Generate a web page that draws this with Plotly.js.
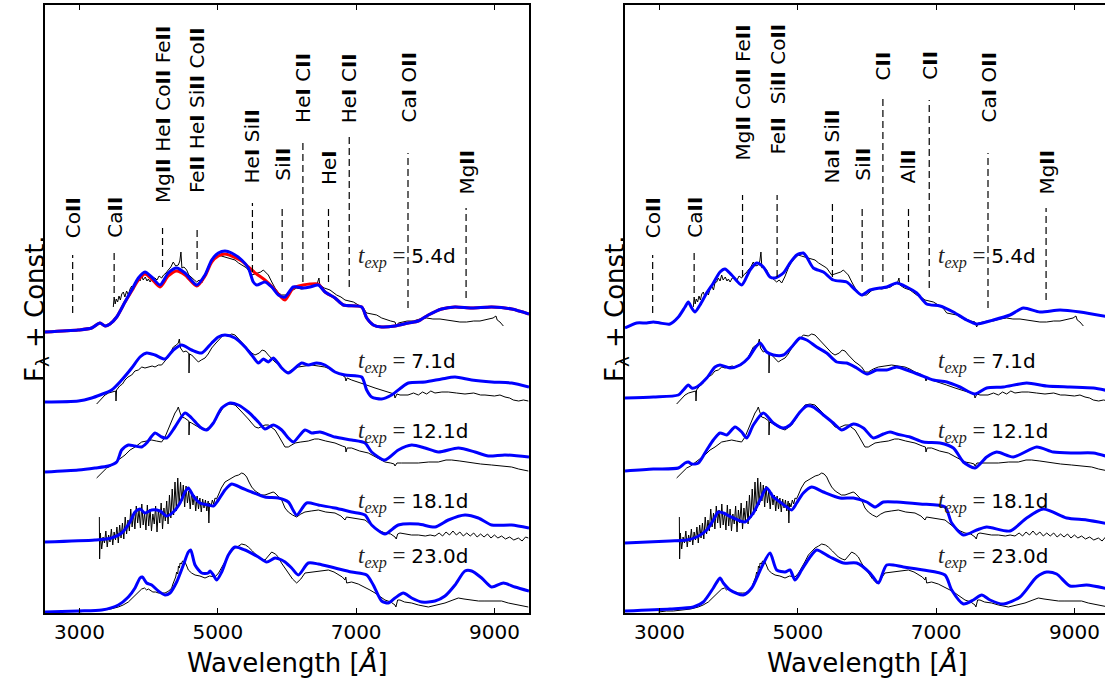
<!DOCTYPE html>
<html><head><meta charset="utf-8">
<script src="https://cdn.plot.ly/plotly-3.0.1.min.js"></script>
<style>html,body{margin:0;padding:0;overflow:hidden;background:#fff}#chart{width:1110px;height:678px}</style>
</head><body><div id="chart"></div>
<script>
// ---------------- DATA ----------------
const epochs = ['5.4d', '7.1d', '12.1d', '18.1d', '23.0d'];

// observed spectra (black) — same in both panels
const wlObs54 = [3488,3500,3515,3530,3550,3570,3590,3610,3633,3655,3680,3706,3730,3754,3780,3800,3825,3850,3875,3898,3920,3950,3975,3995,4020,4050,4091,4120,4150,4187,4215,4250,4283,4320,4355,4390,4428,4450,4466,4480,4510,4549,4580,4620,4660,4694,4730,4766,4810,4862,4900,4935,4970,5007,5050,5103,5175,5248,5300,5345,5417,5489,5540,5586,5620,5658,5730,5780,5827,5880,5923,5995,6060,6140,6210,6284,6340,6380,6440,6462,6475,6540,6622,6718,6780,6839,6900,6960,7032,7100,7153,7220,7297,7370,7441,7500,7562,7586,7610,7658,7740,7827,7920,8020,8110,8213,8310,8406,8500,8598,8700,8791,8870,8936,8980,9022,9040,9080,9110,9129];
const flObs54 = [306,316,309,314,311,317,313,319,321,316,322,318,324,327,323,330,331,335,332,338,333,336,332,334,331,335,335,333,337,335,338,340,343,346,351,347,348,352,361,345,346,343,338,335,333,331,333,330,336,345,350,353,356,358,357,356,355,353,350,348,345,338,339,340,341,343,338,331,325,320,318,318,322,325,324,325,326,328,330,335,328,325,323,318,316,313,312,311,308,305,300,299,298,295,293,292,291,286,290,291,292,292,294,295,294,294,293,292,291,291,292,292,293,294,295,297,293,291,289,287];

const wlObs71 = [3247,3300,3368,3420,3464,3500,3522,3527,3535,3580,3620,3657,3700,3754,3800,3850,3900,3946,4000,4050,4091,4140,4187,4230,4284,4320,4356,4400,4428,4443,4460,4500,4540,4575,4580,4583,4590,4621,4670,4718,4760,4814,4860,4911,4960,5007,5079,5150,5200,5248,5300,5345,5400,5441,5490,5537,5600,5640,5682,5730,5780,5827,5870,5923,5971,6019,6090,6164,6260,6356,6450,6549,6620,6694,6770,6839,6853,6870,6935,7032,7150,7273,7400,7514,7550,7562,7590,7634,7750,7830,7900,7960,8020,8080,8140,8240,8333,8450,8574,8700,8800,8863,9000,9080,9153,9220,9273,9350,9420,9490];
const flObs71 = [209,213,218,220,221,222,222,212,223,227,229,233,236,238,242,243,246,245,246,247,246,248,248,252,256,261,266,268,270,274,265,261,262,260,260,240,259,258,254,251,253,255,259,265,269,273,278,277,279,278,274,271,266,263,260,258,260,263,262,258,254,251,249,246,241,241,244,246,247,248,247,246,244,241,239,236,232,235,233,231,228,225,222,220,219,215,219,218,218,220,218,221,219,222,220,221,221,220,219,220,218,218,217,218,216,215,213,212,213,212];

const wlObs121 = [3247,3300,3392,3450,3512,3580,3657,3730,3802,3850,3898,3970,4043,4110,4187,4236,4290,4332,4380,4410,4428,4450,4477,4520,4573,4580,4583,4590,4620,4670,4740,4814,4860,4911,4960,5007,5060,5103,5176,5248,5320,5393,5441,5489,5540,5586,5640,5682,5730,5780,5827,5880,5923,5971,6019,6070,6116,6200,6308,6400,6453,6560,6694,6800,6845,6853,6870,6935,7050,7176,7300,7417,7500,7550,7562,7590,7658,7780,7900,8050,8189,8300,8382,8500,8600,8671,8800,8960,9100,9249,9350,9420,9490];
const flObs121 = [135,139,145,147,150,154,158,163,166,169,171,172,173,172,171,176,185,193,200,203,206,201,196,195,192,192,178,191,190,188,185,183,185,188,193,198,203,208,209,208,203,198,194,190,186,185,187,188,188,185,183,177,171,166,166,168,170,171,172,174,174,172,170,167,166,161,165,165,162,160,155,151,150,149,147,150,150,150,150,151,151,153,153,152,151,150,149,148,147,146,144,143,142];

const wlObs181 = [3286,3290,
  3300,3320,3340,3360,3380,3400,3420,3440,3460,3480,
  3500,3520,3540,3560,3580,3600,3620,3640,3660,3680,
  3700,3720,3740,3760,3780,3800,3820,3840,3860,3880,
  3900,3920,3940,3960,3980,4000,4020,4040,4060,4080,
  4100,4120,4140,4160,4180,4200,4220,4240,4260,4280,
  4300,4320,4340,4360,4380,4400,4420,4440,4460,4480,
  4500,4520,4540,4560,4580,4600,4620,4640,4660,4680,
  4700,4720,4740,4760,4780,4800,4820,4840,4860,4870,4880,
  4900,4920,4940,4960,4980,5007,
  5050,5103,5150,5200,5250,5300,5345,5380,5417,5450,5489,5540,5586,5630,5682,5750,5800,5827,5880,5923,5971,6019,6080,6140,6200,6260,6350,6453,6560,6694,6780,6839,6860,6935,7030,7128,7200,7273,7350,7417,7500,7562,7580,7600,7634,7700,7800,7900,8000,8070,8140,8200,8250,8300,8350,8400,8450,8500,8550,8600,8650,8700,8750,8800,8850,8900,8950,9000,9050,9104,9160,9220,9280,9346,9400,9450,9490];
const flObs181 = [96,54,
  80,64,76,70,82,66,78,71,84,68,
  81,73,86,70,88,75,90,74,96,79,
  93,82,104,86,100,84,107,90,103,85,
  109,88,100,83,108,87,104,82,99,89,
  107,81,103,90,110,84,105,92,112,89,
  118,95,124,98,131,102,135,108,131,112,
  128,106,127,110,122,104,121,108,118,102,
  117,104,115,101,114,105,113,102,112,90,110,
  106,113,109,115,114,118,
  125,131,133,135,137,138,140,139,136,131,126,122,120,118,118,120,121,120,116,113,105,101,98,96,99,101,102,103,101,100,97,93,96,95,94,93,89,85,82,80,79,76,74,79,80,79,78,78,77,78,77,80,77,81,78,82,78,81,77,80,77,80,76,79,76,79,75,78,75,77,74,76,73,75,72,76,75];

const wlObs230 = [2982,3100,3200,3368,3450,3561,3630,3705,3750,3802,3850,3898,3940,3970,3995,4030,4060,4100,4139,4200,4236,4290,4332,4350,4370,4390,4404,4420,4430,4445,4453,4470,4490,4525,4550,4573,4620,4670,4740,4814,4880,4959,5010,5055,5100,5152,5200,5248,5300,5345,5400,5441,5500,5586,5640,5682,5730,5779,5830,5875,5920,5971,6020,6080,6140,6200,6260,6350,6453,6598,6680,6742,6800,6839,6850,6863,6935,7030,7128,7200,7273,7350,7417,7500,7562,7575,7600,7634,7700,7803,7900,8044,8150,8285,8400,8478,8560,8671,8770,8863,8960,9104,9200,9346,9420,9490];
const flObs230 = [1,2,2,3,4,6,8,11,14,18,21,24,25,23,24,22,21,21,20,20,20,22,25,29,32,36,41,39,47,45,50,49,52,51,47,43,40,38,37,35,37,36,40,45,51,58,62,65,67,69,68,66,62,56,54,53,57,61,59,56,50,45,40,34,30,34,40,41,42,43,41,38,36,33,36,30,31,29,26,23,20,16,13,11,8,6,13,13,11,10,8,6,8,10,13,15,14,13,12,12,12,12,10,8,7,6];

// red model, left panel, 5.4d
const wlRed54 = [2500,2980,3175,3295,3370,3440,3537,3657,3754,3850,3946,4043,4163,4283,4404,4525,4694,4814,4911,5007,5103,5200,5345,5441,5560,5680,5800,5900,5971,6091,6236,6333,6453,6550,6694,6815,7080,7153,7248,7369,7562,7755,7900,8044,8237,8430,8671,8960,9250,9500];
const flRed54 = [281,283,285,290,287,289,296,311,322,333,339,334,326,337,342,338,327,337,351,357,359,357,352,346,339,333,325,317,313,325,328,329,329,321,315,308,306,295,288,286,287,290,292,298,304,306,305,306,304,299];

// blue models, left panel
const wlBlueL54 = [2500,2980,3175,3295,3370,3440,3537,3657,3754,3850,3946,4043,4163,4283,4404,4525,4694,4814,4911,5007,5103,5200,5345,5441,5513,5562,5682,5779,5875,5971,6091,6236,6333,6453,6550,6694,6815,7080,7153,7248,7369,7562,7755,7900,8044,8237,8430,8671,8960,9250,9500];
const flBlueL54 = [281,283,285,290,287,289,296,311,323,335,341,336,328,340,345,340,328,338,353,360,362,360,353,345,331,328,331,326,318,316,326,325,326,328,321,315,308,306,295,288,286,287,290,292,298,304,306,305,306,304,299];
const wlBlueL71 = [2500,2982,3175,3295,3464,3609,3754,3874,3970,4091,4236,4356,4477,4621,4766,4911,5007,5103,5248,5393,5489,5586,5658,5730,5802,5923,6019,6212,6308,6429,6549,6694,6839,7080,7152,7224,7369,7514,7755,7996,8237,8430,8671,8960,9249,9500];
const flBlueL71 = [211,212,215,218,223,233,245,256,260,258,254,263,268,263,260,270,276,278,275,266,258,250,254,251,255,245,240,250,248,250,248,241,238,236,223,216,214,218,230,231,234,236,233,231,230,226];
const wlBlueL121 = [2500,2982,3223,3416,3537,3609,3705,3802,3898,3970,4091,4187,4260,4380,4525,4621,4742,4838,4935,5055,5176,5296,5441,5586,5682,5802,5923,6019,6092,6260,6356,6477,6694,6935,7128,7224,7417,7610,7803,7996,8189,8478,8719,8912,9153,9500];
const flBlueL121 = [141,143,145,147,151,163,168,167,166,170,180,176,175,186,200,195,186,183,190,205,210,208,201,191,184,188,183,175,171,183,180,181,176,173,170,161,153,163,168,165,161,165,161,157,158,156];
const wlBlueL181 = [2500,3223,3464,3609,3729,3802,3874,3946,4043,4163,4260,4356,4453,4525,4573,4645,4742,4862,4935,5007,5103,5200,5345,5489,5682,5875,6019,6140,6284,6453,6694,6935,7128,7224,7417,7610,7900,8140,8333,8574,8767,8960,9249,9500];
const flBlueL181 = [71,73,75,80,91,101,104,100,103,102,97,101,110,121,125,117,110,108,107,113,123,129,125,121,116,115,111,98,110,108,105,101,98,88,79,88,89,86,93,98,95,88,88,85];
const wlBlueL230 = [2500,2982,3320,3561,3705,3802,3874,3908,3970,4043,4139,4236,4308,4404,4501,4573,4607,4670,4766,4862,4887,4935,4983,5055,5152,5248,5393,5586,5706,5827,5923,5971,6067,6164,6308,6453,6694,6935,7152,7248,7369,7465,7562,7682,7803,7948,8140,8285,8430,8574,8671,8815,8960,9129,9297,9500];
const flBlueL230 = [1,2,3,8,16,25,35,36,30,28,22,18,20,31,48,61,63,48,40,40,42,38,33,41,58,66,63,56,51,55,53,51,45,38,50,49,45,41,38,28,12,10,15,20,15,11,12,17,28,42,42,35,26,30,26,22];

// blue models, right panel
const wlBlueR54 = [2500,2669,2814,2910,3007,3151,3272,3368,3416,3465,3513,3585,3682,3778,3874,3946,4043,4188,4308,4405,4501,4597,4670,4790,4887,4983,5080,5128,5224,5369,5513,5706,5803,5923,6044,6188,6285,6430,6574,6719,6863,7056,7249,7442,7587,7827,8068,8261,8502,8792,9081,9500];
const flBlueR54 = [285,290,290,291,290,289,296,306,311,305,301,308,320,330,341,344,338,328,343,350,346,336,335,340,350,358,360,356,345,341,333,331,325,318,323,325,326,330,326,320,309,307,301,293,289,293,298,305,301,303,301,296];
const wlBlueR71 = [2500,2910,3272,3344,3416,3465,3537,3682,3802,3874,4019,4164,4284,4381,4453,4549,4646,4790,4911,5031,5128,5272,5417,5562,5706,5851,5996,6140,6285,6430,6574,6767,6960,7153,7345,7562,7731,7972,8309,8599,8936,9274,9500];
const flBlueR71 = [215,216,218,223,228,225,226,235,246,248,245,248,255,265,270,261,258,258,266,275,273,266,260,251,250,245,239,243,243,246,243,238,233,231,226,219,225,226,230,227,226,225,222];
const wlBlueR121 = [2500,2910,3272,3368,3416,3465,3561,3682,3778,3874,3971,4091,4188,4260,4356,4501,4646,4790,4887,5031,5128,5224,5369,5513,5634,5803,5947,6092,6236,6333,6430,6622,6815,7056,7249,7394,7562,7731,7876,8117,8454,8695,8985,9274,9500];
const flBlueR121 = [142,144,145,150,151,149,150,163,173,180,178,186,181,175,188,200,190,185,188,201,207,206,198,190,183,189,185,175,179,181,179,176,171,170,165,151,145,156,161,156,166,161,160,160,156];
const wlBlueR181 = [2500,3151,3392,3537,3682,3778,3850,3922,4067,4236,4356,4453,4549,4646,4742,4839,4911,4983,5080,5200,5369,5610,5803,5996,6116,6236,6430,6767,7128,7225,7394,7587,7731,8068,8309,8550,8888,9177,9500];
const flBlueR181 = [70,72,73,76,83,93,101,100,95,91,100,113,125,116,111,106,103,110,120,126,121,115,115,111,106,111,111,109,106,90,78,83,86,82,95,104,95,93,89];
const wlBlueR230 = [2500,3151,3489,3633,3778,3874,3922,4019,4212,4332,4477,4597,4694,4815,4887,4959,5055,5176,5272,5465,5658,5851,6044,6164,6285,6526,6815,7128,7225,7394,7538,7659,7779,7972,8213,8454,8599,8743,8936,9177,9500];
const flBlueR230 = [2,4,6,11,25,35,30,23,18,25,46,60,43,41,43,33,43,56,63,56,50,50,40,30,48,46,43,38,23,9,13,18,13,9,16,36,41,39,27,28,24];

// line identifications
const lineWl = [2900, 3500, 4200, 4700, 5500, 5930, 6230, 6600, 6900, 7750, 8590];
const lineLabelsL = ['Co<b>II</b>', 'Ca<b>II</b>', 'Mg<b>II</b> He<b>I</b> Co<b>II</b> Fe<b>II</b>', 'Fe<b>II</b> He<b>I</b> Si<b>II</b> Co<b>II</b>', 'He<b>I</b> Si<b>II</b>', 'Si<b>II</b>', 'He<b>I</b> C<b>II</b>', 'He<b>I</b>', 'He<b>I</b> C<b>II</b>', 'Ca<b>I</b> O<b>II</b>', 'Mg<b>II</b>'];
const lineLabelsR = ['Co<b>II</b>', 'Ca<b>II</b>', 'Mg<b>II</b> Co<b>II</b> Fe<b>II</b>', 'Fe<b>II</b>&nbsp; Si<b>II</b> Co<b>II</b>', 'Na<b>I</b> Si<b>II</b>', 'Si<b>II</b>', 'C<b>II</b>', 'Al<b>II</b>', 'C<b>II</b>', 'Ca<b>I</b> O<b>II</b>', 'Mg<b>II</b>'];

const xTickVals = [3000, 5000, 7000, 9000];
const xTickText = ['3000', '5000', '7000', '9000'];

// ---------------- LAYOUT CONSTANTS ----------------
const lineTopL = [358, 363, 385, 386, 410, 406, 471, 406, 476, 460, 405];
const lineBotL = [300, 320, 346, 343, 341, 331, 331, 331, 326, 305, 315];
const labelBaseL = [373, 373, 408, 418, 428, 430, 488, 426, 488, 488, 416];
const lineTopR = [358, 363, 418, 418, 410, 406, 516, 406, 513, 460, 405];
const lineBotR = [300, 320, 336, 336, 336, 331, 331, 331, 325, 305, 313];
const labelBaseR = [373, 373, 450, 456, 428, 430, 531, 428, 531, 488, 416];
const epochLabelY = [356, 251, 181, 111, 56];

const W = 1110, H = 678;
const obsWl = [wlObs54, wlObs71, wlObs121, wlObs181, wlObs230];
const obsFl = [flObs54, flObs71, flObs121, flObs181, flObs230];
const blueL = [[wlBlueL54, flBlueL54], [wlBlueL71, flBlueL71], [wlBlueL121, flBlueL121], [wlBlueL181, flBlueL181], [wlBlueL230, flBlueL230]];
const blueR = [[wlBlueR54, flBlueR54], [wlBlueR71, flBlueR71], [wlBlueR121, flBlueR121], [wlBlueR181, flBlueR181], [wlBlueR230, flBlueR230]];

const traces = [];
function panel(xa, ya, blues, withRed) {
  for (let i = 0; i < 5; i++) {
    traces.push({x: obsWl[i], y: obsFl[i], xaxis: xa, yaxis: ya, type: 'scatter', mode: 'lines',
      line: {color: '#000000', width: 1}, hoverinfo: 'skip', showlegend: false});
  }
  if (withRed) {
    traces.push({x: wlRed54, y: flRed54, xaxis: xa, yaxis: ya, type: 'scatter', mode: 'lines',
      line: {color: '#ff0000', width: 3, shape: 'spline', smoothing: 0.7}, hoverinfo: 'skip', showlegend: false});
  }
  for (let i = 0; i < 5; i++) {
    traces.push({x: blues[i][0], y: blues[i][1], xaxis: xa, yaxis: ya, type: 'scatter', mode: 'lines',
      line: {color: '#0000ff', width: 3, shape: 'spline', smoothing: 0.7}, hoverinfo: 'skip', showlegend: false});
  }
}
panel('x', 'y', blueL, true);
panel('x2', 'y2', blueR, false);

const shapes = [], annotations = [];
function ids(xr, yr, labels, tops, bots, bases) {
  for (let i = 0; i < lineWl.length; i++) {
    shapes.push({type: 'line', xref: xr, yref: yr, x0: lineWl[i], x1: lineWl[i], y0: bots[i], y1: tops[i],
      line: {color: '#000', width: 1.2, dash: '7px,4px'}});
    annotations.push({xref: xr, yref: yr, x: lineWl[i], y: bases[i], text: labels[i], textangle: -90,
      xanchor: 'center', yanchor: 'bottom', showarrow: false,
      font: {family: 'DejaVu Sans', size: 20, color: '#000'}});
  }
  for (let i = 0; i < 5; i++) {
    annotations.push({xref: xr, yref: yr, x: 7000, y: epochLabelY[i], xanchor: 'left', yanchor: 'middle', showarrow: false,
      text: '<span style="font-family:\'Liberation Serif\';font-size:23px;color:#222"><i>t</i><sub><i>exp</i></sub> = </span>' + epochs[i],
      font: {family: 'DejaVu Sans', size: 20, color: '#000'}});
  }
}
ids('x', 'y', lineLabelsL, lineTopL, lineBotL, labelBaseL);
ids('x2', 'y2', lineLabelsR, lineTopR, lineBotR, labelBaseR);

const axisTitleFont = {family: 'DejaVu Sans', size: 26, color: '#000'};
[[287, 37], [867, 617]].forEach(([cx, ly]) => {
  annotations.push({xref: 'paper', yref: 'paper', x: cx / W, y: 1 - 662 / H, xanchor: 'center', yanchor: 'middle',
    showarrow: false, text: 'Wavelength [<i>Å</i>]', font: axisTitleFont});
  annotations.push({xref: 'paper', yref: 'paper', x: ly / W, y: 1 - 309 / H, xanchor: 'center', yanchor: 'middle',
    showarrow: false, textangle: -90, text: 'F<sub>λ</sub> + Const.', font: axisTitleFont});
});

const xax = (dom) => ({domain: dom, range: [2500, 9500], tickvals: xTickVals, ticktext: xTickText,
  ticks: 'inside', ticklen: 5, tickwidth: 1, tickcolor: '#000', showline: true, linewidth: 2, linecolor: '#000',
  mirror: 'ticks', showgrid: false, zeroline: false, fixedrange: true,
  tickfont: {family: 'DejaVu Sans', size: 20, color: '#000'}});
const yax = (anchor) => ({domain: [1 - 613 / H, 1 - 5 / H], range: [0, 608], anchor: anchor, showticklabels: false, ticks: '',
  showline: true, linewidth: 2, linecolor: '#000', mirror: true, showgrid: false, zeroline: false, fixedrange: true});

const layout = {
  width: W, height: H, margin: {l: 0, r: 0, t: 0, b: 0},
  paper_bgcolor: '#fff', plot_bgcolor: '#fff', showlegend: false,
  xaxis: Object.assign(xax([45 / W, 529 / W]), {anchor: 'y'}),
  xaxis2: Object.assign(xax([625 / W, 1109 / W]), {anchor: 'y2'}),
  yaxis: yax('x'), yaxis2: yax('x2'),
  shapes: shapes, annotations: annotations,
  font: {family: 'DejaVu Sans', color: '#000'}
};
Plotly.newPlot('chart', traces, layout, {staticPlot: true, displayModeBar: false});
</script>
</body></html>
